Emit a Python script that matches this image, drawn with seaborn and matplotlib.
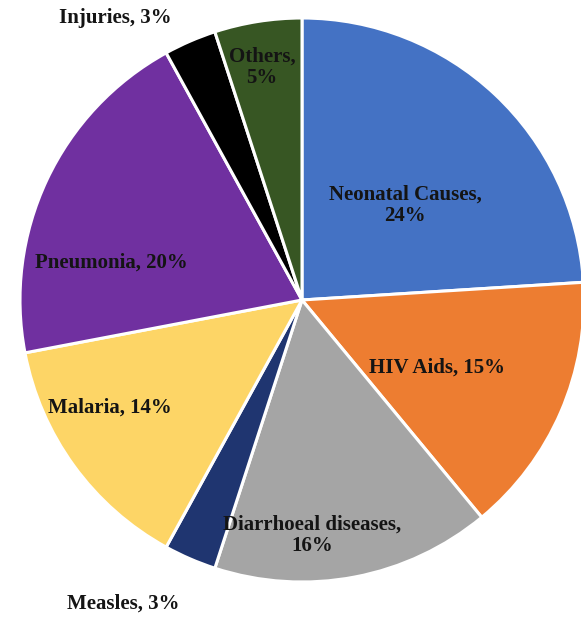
import matplotlib
matplotlib.use("Agg")
import matplotlib.pyplot as plt
import seaborn as sns

# Causes of death, share in percent (clockwise from 12 o'clock)
causes = ["Neonatal Causes", "HIV Aids", "Diarrhoeal diseases", "Measles",
          "Malaria", "Pneumonia", "Injuries", "Others"]
shares = [24, 15, 16, 3, 14, 20, 3, 5]
colors = ["#4472C4", "#ED7D31", "#A5A5A5", "#1F3570",
          "#FDD566", "#7030A0", "#000000", "#375623"]

# label text layout: position in units of the pie radius, and line break
label_pos = [(0.365, 0.335), (0.480, -0.238), (0.035, -0.835), (-0.635, -1.075),
             (-0.680, -0.383), (-0.677, 0.131), (-0.663, 1.0), (-0.142, 0.825)]
label_text = ["{},\n{}%", "{}, {}%", "{},\n{}%", "{}, {}%",
              "{}, {}%", "{}, {}%", "{}, {}%", "{},\n{}%"]

sns.set_theme(style="white")
plt.rcParams["font.family"] = ["Liberation Serif", "DejaVu Serif"]

W, H = 581, 619
fig = plt.figure(figsize=(W / 100, H / 100), dpi=100)
cx, cy, R = 302, 300, 282
ax = fig.add_axes([(cx - R) / W, (H - cy - R) / H, 2 * R / W, 2 * R / H])

wedges, _ = ax.pie(shares, colors=colors, startangle=90, counterclock=False,
                   radius=1.0, wedgeprops=dict(edgecolor="white", linewidth=2.2))
for w in wedges:
    w.set_clip_on(False)

ax.set_xlim(-1, 1)
ax.set_ylim(-1, 1)
ax.set_aspect("equal")
ax.axis("off")

for name, val, (x, y), fmt in zip(causes, shares, label_pos, label_text):
    ax.text(x, y, fmt.format(name, val), ha="center", va="center",
            fontsize=15, fontweight="bold", color="#141414",
            linespacing=1.1, clip_on=False)

fig.savefig("out.png", dpi=100, facecolor="white")
